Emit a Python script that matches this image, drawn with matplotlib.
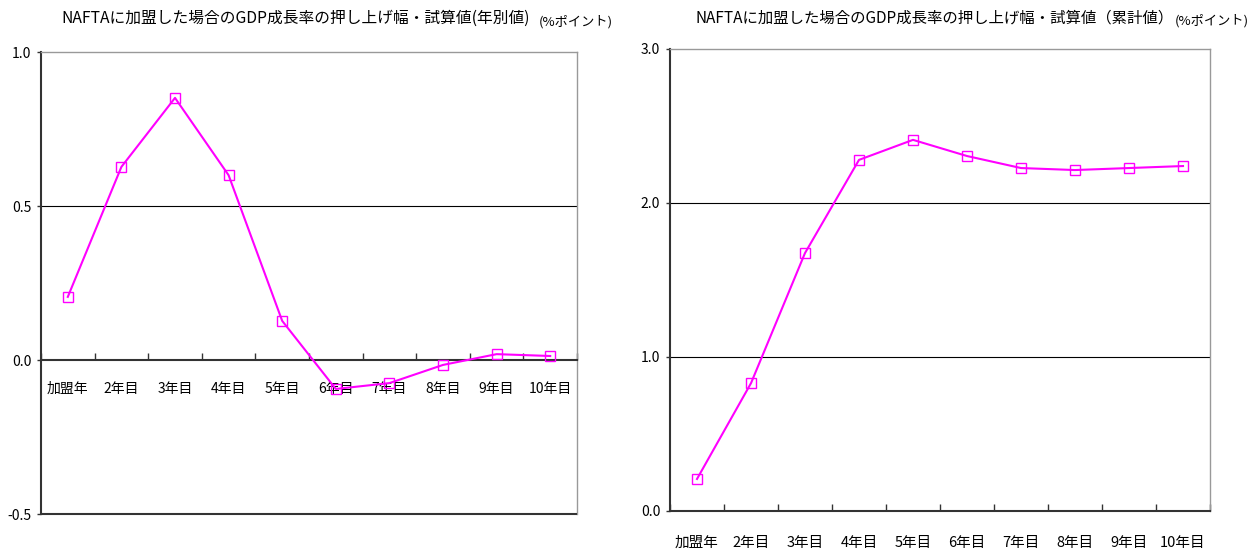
import numpy as np
import matplotlib.pyplot as plt

plt.rcParams['font.family'] = ['Noto Sans CJK JP', 'DejaVu Sans']

# ---- data ----
categories = ["加盟年", "2年目", "3年目", "4年目", "5年目",
              "6年目", "7年目", "8年目", "9年目", "10年目"]
yearly = [0.205, 0.627, 0.851, 0.600, 0.127, -0.094, -0.075, -0.016, 0.019, 0.013]
cumulative = [0.208, 0.83, 1.675, 2.28, 2.41, 2.305, 2.227, 2.214, 2.227, 2.24]

title_left = "NAFTAに加盟した場合のGDP成長率の押し上げ幅・試算値(年別値)"
title_right = "NAFTAに加盟した場合のGDP成長率の押し上げ幅・試算値（累計値）"
unit = "(%ポイント)"

W, H = 1254, 549
fig = plt.figure(figsize=(W / 100, H / 100), dpi=100)

magenta = "#ff00ff"
dark = "#333333"
gray = "#999999"


def px_axes(x0, x1, ytop, ybot):
    return fig.add_axes([x0 / W, (H - ybot) / H, (x1 - x0) / W, (ybot - ytop) / H])


def style(ax, ymin, ymax, yticks, grid, label_pad):
    x = np.arange(len(categories))
    ax.set_xlim(-0.5, len(categories) - 0.5)
    ax.set_ylim(ymin, ymax)
    ax.set_yticks(yticks)
    ax.set_yticklabels([f"{v:.1f}" for v in yticks], fontsize=10)
    for g in grid:
        ax.axhline(g, color="black", lw=0.8, zorder=1)
    ax.set_xticks(x)
    ax.set_xticklabels(categories, fontsize=10.5)
    ax.set_xticks(np.arange(len(categories) + 1) - 0.5, minor=True)
    ax.tick_params(axis="x", which="major", length=0, pad=label_pad)
    ax.tick_params(axis="x", which="minor", direction="in", length=5, color=dark, width=1)
    ax.tick_params(axis="y", direction="out", length=3, color=dark, width=1, pad=4)
    ax.spines["left"].set_color(dark)
    ax.spines["left"].set_linewidth(1.5)
    ax.spines["bottom"].set_color(dark)
    ax.spines["bottom"].set_linewidth(1.5)
    ax.spines["top"].set_color(gray)
    ax.spines["right"].set_color(gray)
    ax.spines["top"].set_linewidth(1)
    ax.spines["right"].set_linewidth(1)


# left panel: yearly values
ax1 = px_axes(41, 577, 52, 514)
style(ax1, -0.5, 1.0, [-0.5, 0.0, 0.5, 1.0], [0.5], 16)
ax1.spines["bottom"].set_position(("data", 0))
ax1.axhline(-0.5, color=dark, lw=1.5, zorder=3, clip_on=False, solid_capstyle="butt")
ax1.plot(np.arange(len(categories)), yearly, color=magenta, lw=1.5,
         marker="s", ms=7, mfc="none", mec=magenta, mew=1, zorder=4, clip_on=False)
fig.text(296 / W, 1 - 18 / H, title_left, ha="center", va="center", fontsize=11.3)
fig.text(576 / W, 1 - 22 / H, unit, ha="center", va="center", fontsize=9.5)

# right panel: cumulative values
ax2 = px_axes(670, 1210, 49, 511)
style(ax2, 0.0, 3.0, [0.0, 1.0, 2.0, 3.0], [1.0, 2.0], 18)
ax2.plot(np.arange(len(categories)), cumulative, color=magenta, lw=1.5,
         marker="s", ms=7, mfc="none", mec=magenta, mew=1, zorder=4, clip_on=False)
fig.text(935 / W, 1 - 18 / H, title_right, ha="center", va="center", fontsize=11.1)
fig.text(1212 / W, 1 - 21 / H, unit, ha="center", va="center", fontsize=9.5)

plt.savefig("out.png", dpi=100)
